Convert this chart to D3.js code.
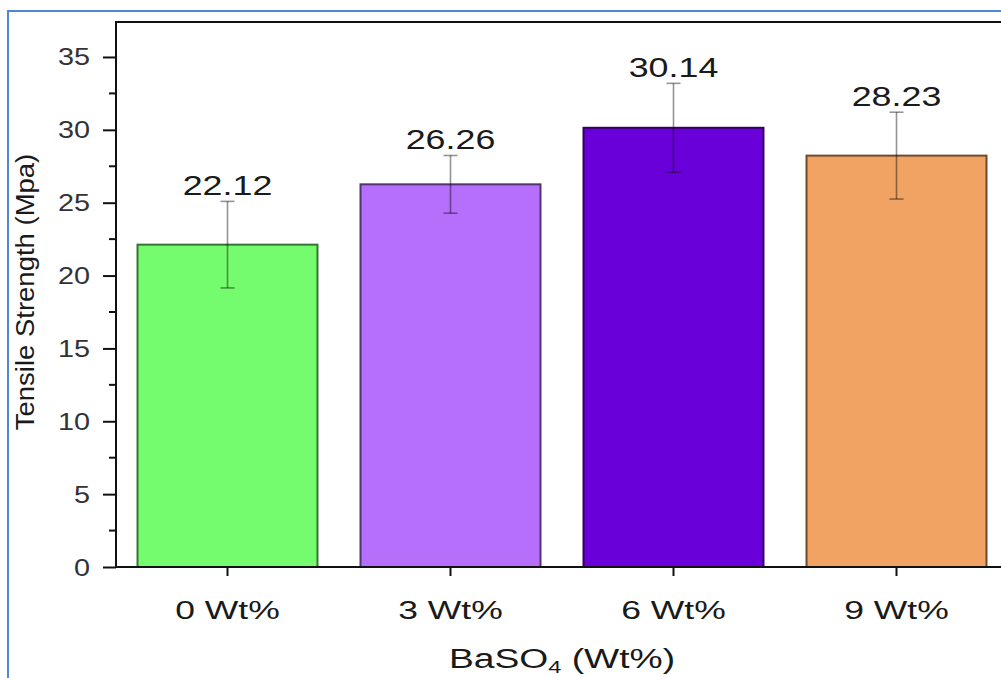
<!DOCTYPE html>
<html>
<head>
<meta charset="utf-8">
<script src="https://cdn.jsdelivr.net/npm/d3@7"></script>
<style>
  html, body { margin: 0; padding: 0; background: #fff; }
  svg { display: block; }
  text { font-family: "Liberation Sans", Arial, sans-serif; fill: #1a1a1a; }
</style>
</head>
<body>
<script>
// Tensile strength of the composite versus BaSO4 loading
const categories = ["0 Wt%", "3 Wt%", "6 Wt%", "9 Wt%"];
const strength = [22.12, 26.26, 30.14, 28.23];
const strengthError = [2.97, 1.98, 3.05, 2.98];
const barColors = ["#74fb6e", "#b66ffb", "#6a00d9", "#f1a363"];
const yTicks = [0, 5, 10, 15, 20, 25, 30, 35];

const W = 1001, H = 678;
const plot = { left: 116, right: 1008, top: 22, bottom: 567 };

const svg = d3.select("body").append("svg")
  .attr("width", W).attr("height", H);

// outer frame
svg.append("path")
  .attr("d", `M8,${H + 2} L8,11 L${W + 2},11`)
  .attr("fill", "none")
  .attr("stroke", "#4f88d2")
  .attr("stroke-width", 2);

const x = d3.scaleBand()
  .domain(categories)
  .range([plot.left, plot.right])
  .paddingInner(0.193)
  .paddingOuter(0.0965);

const y = d3.scaleLinear()
  .domain([0, 37.4])
  .range([plot.bottom, plot.top]);

// wide-glyph text helper: places text and stretches it horizontally
function wideText(g, tx, ty, str, size, sx, anchor) {
  return g.append("text")
    .attr("transform", `translate(${tx},${ty}) scale(${sx},1)`)
    .attr("font-size", size)
    .attr("text-anchor", anchor || "middle")
    .text(str);
}

// bars
const data = categories.map((c, i) => ({ c, v: strength[i], e: strengthError[i], color: barColors[i] }));

svg.append("g").selectAll("rect")
  .data(data).join("rect")
  .attr("x", d => x(d.c))
  .attr("y", d => y(d.v))
  .attr("width", x.bandwidth())
  .attr("height", d => y(0) - y(d.v))
  .attr("fill", d => d.color)
  .attr("stroke", d => d3.color(d.color).darker(2.2))
  .attr("stroke-width", 2);

// error bars
const capHalf = 7;
const eb = svg.append("g")
  .attr("stroke", "#000")
  .attr("stroke-opacity", 0.42)
  .attr("stroke-width", 1.6)
  .attr("fill", "none");
data.forEach(d => {
  const cx = x(d.c) + x.bandwidth() / 2;
  eb.append("line").attr("x1", cx).attr("x2", cx).attr("y1", y(d.v + d.e)).attr("y2", y(d.v - d.e));
  eb.append("line").attr("x1", cx - capHalf).attr("x2", cx + capHalf).attr("y1", y(d.v + d.e)).attr("y2", y(d.v + d.e));
  eb.append("line").attr("x1", cx - capHalf).attr("x2", cx + capHalf).attr("y1", y(d.v - d.e)).attr("y2", y(d.v - d.e));
});

// value labels
const lbl = svg.append("g");
data.forEach(d => {
  const cx = x(d.c) + x.bandwidth() / 2;
  wideText(lbl, cx, y(d.v + d.e) - 6, d.v.toFixed(2), 28, 1.28);
});

// y axis
const yAxis = d3.axisLeft(y).tickValues(yTicks).tickSize(13).tickFormat(() => "");
const yg = svg.append("g").attr("transform", `translate(${plot.left},0)`).call(yAxis);
yg.select(".domain").remove();
yg.selectAll(".tick line").attr("stroke", "#111").attr("stroke-width", 2);

// minor ticks
const minor = d3.range(2.5, 37.4, 5);
svg.append("g").selectAll("line").data(minor).join("line")
  .attr("x1", plot.left - 7).attr("x2", plot.left)
  .attr("y1", d => y(d)).attr("y2", d => y(d))
  .attr("stroke", "#111").attr("stroke-width", 2);

const ytl = svg.append("g").style("fill", "#333");
yTicks.forEach(t => {
  wideText(ytl, 90, y(t) + 8.5, String(t), 24, 1.2, "end").style("fill", "#333");
});

// x axis ticks
const xAxis = d3.axisBottom(x).tickSize(9).tickFormat(() => "");
const xg = svg.append("g").attr("transform", `translate(0,${plot.bottom})`).call(xAxis);
xg.select(".domain").remove();
xg.selectAll(".tick line").attr("stroke", "#111").attr("stroke-width", 2);

const xtl = svg.append("g");
categories.forEach(c => {
  wideText(xtl, x(c) + x.bandwidth() / 2, 619, c, 25, 1.42);
});

// plot frame lines
svg.append("path")
  .attr("d", `M${plot.left},${plot.bottom} L${plot.left},${plot.top} L${plot.right},${plot.top}`)
  .attr("fill", "none").attr("stroke", "#111").attr("stroke-width", 2);
svg.append("line")
  .attr("x1", plot.left - 1).attr("x2", plot.right)
  .attr("y1", plot.bottom).attr("y2", plot.bottom)
  .attr("stroke", "#111").attr("stroke-width", 2);

// axis titles
const xt = svg.append("text")
  .attr("transform", `translate(${(plot.left + plot.right) / 2},668) scale(1.38,1)`)
  .attr("font-size", 27)
  .attr("text-anchor", "middle");
xt.append("tspan").text("BaSO");
xt.append("tspan").attr("font-size", 17).attr("dy", 5).text("4");
xt.append("tspan").attr("dy", -5).text(" (Wt%)");

svg.append("text")
  .attr("transform", `translate(34,292) rotate(-90) scale(1.1,1)`)
  .attr("font-size", 25)
  .attr("text-anchor", "middle")
  .text("Tensile Strength (Mpa)");
</script>
</body>
</html>
